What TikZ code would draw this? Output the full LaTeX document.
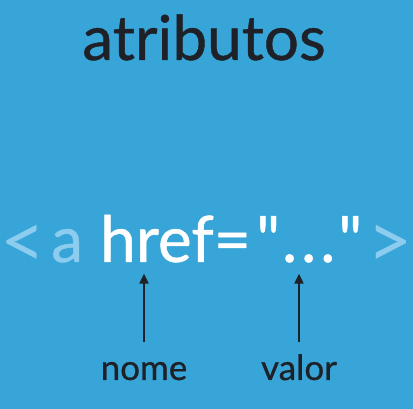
\documentclass[tikz,border=0pt]{standalone}
\usepackage{fontspec}
\setmainfont{Lato}
\newfontfamily\medfont{Lato}[FakeBold=0.7, Ligatures=TeXOff]
\newfontfamily\thinfont{Lato}[Ligatures=TeXOff]
\usetikzlibrary{arrows.meta,positioning}
\definecolor{bgblue}{RGB}{56,165,216}
\definecolor{tagblue}{RGB}{140,204,238}
\definecolor{inkdark}{RGB}{30,34,40}

\begin{document}
\begin{tikzpicture}[x=1pt,y=1pt,
    tagpart/.style={inner sep=0pt, font=\medfont\fontsize{64}{64}\selectfont},
    bracket/.style={inner sep=0pt, text=tagblue, font=\thinfont\fontsize{78}{78}\selectfont},
    caption/.style={inner sep=0pt, text=inkdark, font=\medfont\fontsize{35}{35}\selectfont},
    pointer/.style={draw=inkdark, line width=2pt, -{Triangle[width=9pt,length=10pt]}}]
    \fill[bgblue] (0,0) rectangle (413,-409);
    \useasboundingbox (0,0) rectangle (413,-409);
    \node[inner sep=0pt, text=inkdark, font=\medfont\fontsize{62}{62}\selectfont, anchor=base] (title) at (204,-60) {atributos};

    \node[bracket, anchor=base west] (lt) at (0,-269) {<};
    \node[tagpart, text=tagblue, anchor=base west] (atag) at (51,-262) {a};
    \node[tagpart, text=white, anchor=base west] (href) at (100,-262) {href=};
    \node[tagpart, text=white, base right=5pt of href] (valtxt) {"\kern2pt.\kern4pt.\kern4pt.\kern3pt"};
    \node[bracket, anchor=base east] (gt) at (413,-269) {>};

    \node[caption, anchor=base] (nome) at (144,-380) {nome};
    \node[caption, anchor=base] (valor) at (299,-380) {valor};

    \draw[pointer] ([yshift=20pt]nome.north) -- ([yshift=-11pt]nome |- href.south);
    \draw[pointer] ([yshift=20pt]nome.north -| valor) -- ([yshift=-11pt]valor |- href.south);
\end{tikzpicture}
\end{document}
